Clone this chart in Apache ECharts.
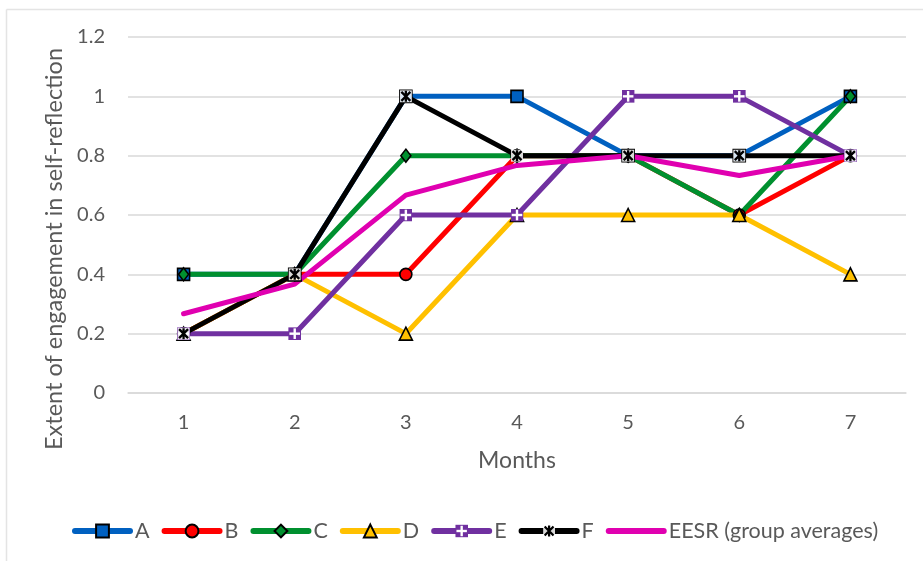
<!DOCTYPE html>
<html>
<head>
<meta charset="utf-8">
<script src="https://cdn.jsdelivr.net/npm/echarts@6/dist/echarts.min.js"></script>
<style>
  html, body { margin: 0; padding: 0; background: #fff; }
  #chart { width: 923px; height: 561px; }
</style>
</head>
<body>
<div id="chart"></div>
<script>
// Months on the horizontal axis
const months = ['1', '2', '3', '4', '5', '6', '7'];

// Engagement per participant, month by month
const seriesA = [0.4, 0.4, 1.0, 1.0, 0.8, 0.8, 1.0];
const seriesB = [0.2, 0.4, 0.4, 0.8, 0.8, 0.6, 0.8];
const seriesC = [0.4, 0.4, 0.8, 0.8, 0.8, 0.6, 1.0];
const seriesD = [0.2, 0.4, 0.2, 0.6, 0.6, 0.6, 0.4];
const seriesE = [0.2, 0.2, 0.6, 0.6, 1.0, 1.0, 0.8];
const seriesF = [0.2, 0.4, 1.0, 0.8, 0.8, 0.8, 0.8];
// Group averages (EESR)
const seriesEESR = [0.267, 0.367, 0.667, 0.767, 0.8, 0.733, 0.8];

const yTicks = { min: 0, max: 1.2, step: 0.2 };

const FONT = 'Lato, "Open Sans", sans-serif';
const GREY = '#595959';

// Marker pictures: purple tile with white cross, and a black star on white
const svgE = "<svg xmlns='http://www.w3.org/2000/svg' width='26' height='26' viewBox='0 0 13 13'>" +
  "<rect x='0' y='0' width='13' height='13' fill='#7030A0'/>" +
  "<rect x='5.3' y='1.2' width='2.4' height='10.6' fill='#ffffff'/>" +
  "<rect x='1.2' y='5.3' width='10.6' height='2.4' fill='#ffffff'/></svg>";
const svgF = "<svg xmlns='http://www.w3.org/2000/svg' width='26' height='26' viewBox='0 0 13 13'>" +
  "<rect x='0.5' y='0.5' width='12' height='12' fill='#ffffff' fill-opacity='0.85'/>" +
  "<path d='M2 2 L11 11 M11 2 L2 11 M6.5 1 L6.5 12' stroke='#000' stroke-width='2.3' fill='none'/></svg>";
const imgE = 'image://data:image/svg+xml;charset=utf-8,' + encodeURIComponent(svgE);
const imgF = 'image://data:image/svg+xml;charset=utf-8,' + encodeURIComponent(svgF);

function lineSeries(name, data, color, symbol, size, bordered) {
  return {
    name: name,
    type: 'line',
    data: data,
    symbol: symbol,
    symbolSize: size,
    showSymbol: symbol !== 'none',
    lineStyle: { color: color, width: 5, cap: 'round', join: 'round' },
    itemStyle: bordered
      ? { color: color, borderColor: '#000', borderWidth: 1.6 }
      : { color: color, borderWidth: 0 },
    emphasis: { disabled: true }
  };
}

const chart = echarts.init(document.getElementById('chart'), null, { renderer: 'canvas' });

chart.setOption({
  animation: false,
  backgroundColor: '#ffffff',
  textStyle: { fontFamily: FONT },
  graphic: [
    { type: 'line', shape: { x1: 6.5, y1: 9.5, x2: 923, y2: 9.5 }, style: { stroke: '#e4e4e4', lineWidth: 1.5 } },
    { type: 'line', shape: { x1: 6.5, y1: 9.5, x2: 6.5, y2: 561 }, style: { stroke: '#e4e4e4', lineWidth: 1.5 } },
    {
      type: 'text', x: 54, y: 249, rotation: Math.PI / 2,
      style: {
        text: 'Extent of engagement in self-reflection',
        fill: GREY, font: '23.5px ' + FONT,
        textAlign: 'center', textVerticalAlign: 'middle'
      }
    }
  ],
  grid: { left: 128, right: 17, top: 37, bottom: 168, containLabel: false },
  legend: {
    left: 72, top: 520, padding: 0,
    itemWidth: 55, itemHeight: 16, itemGap: 12,
    lineStyle: { width: 6, cap: 'round' },
    textStyle: { fontSize: 21.5, color: GREY, fontFamily: FONT },
    data: ['A', 'B', 'C', 'D', 'E', 'F',
      { name: 'EESR (group averages)', itemStyle: { opacity: 0 } }]
  },
  xAxis: {
    type: 'category',
    data: months,
    boundaryGap: true,
    name: 'Months',
    nameLocation: 'middle',
    nameGap: 56,
    nameTextStyle: { fontSize: 23, color: GREY, fontFamily: FONT },
    axisLine: { show: true, lineStyle: { color: '#d9d9d9', width: 1.5 } },
    axisTick: { show: false },
    axisLabel: { fontSize: 20, color: GREY, margin: 20, fontFamily: FONT }
  },
  yAxis: {
    type: 'value',
    min: yTicks.min, max: yTicks.max, interval: yTicks.step,
    axisLine: { show: false },
    axisTick: { show: false },
    axisLabel: { fontSize: 20, color: GREY, margin: 23, fontFamily: FONT },
    splitLine: { lineStyle: { color: '#d9d9d9', width: 1.5 } }
  },
  series: [
    lineSeries('A', seriesA, '#0060C0', 'rect', 12, true),
    lineSeries('B', seriesB, '#FF0000', 'circle', 12, true),
    lineSeries('C', seriesC, '#00902F', 'diamond', [10, 13], true),
    lineSeries('D', seriesD, '#FFC000', 'triangle', 13, true),
    lineSeries('E', seriesE, '#7030A0', imgE, 13, false),
    lineSeries('F', seriesF, '#000000', imgF, 13, false),
    lineSeries('EESR (group averages)', seriesEESR, '#E000B0', 'none', 0, false)
  ]
});
</script>
</body>
</html>
